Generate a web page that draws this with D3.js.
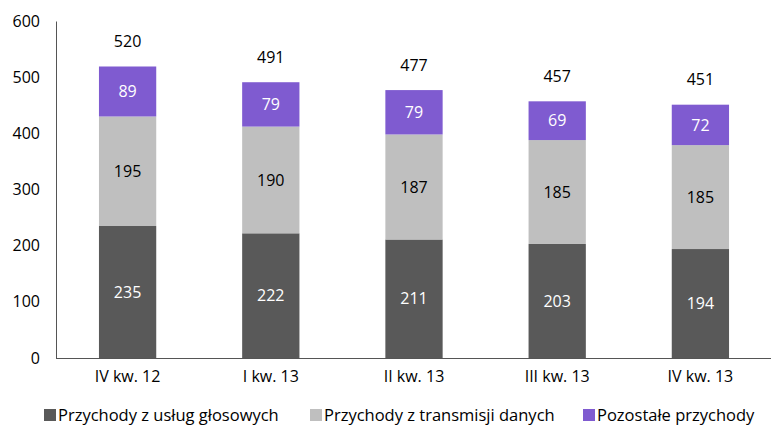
<!DOCTYPE html>
<html><head><meta charset="utf-8">
<script src="https://cdn.jsdelivr.net/npm/d3@7"></script>
<style>body{margin:0;background:#fff}svg{display:block}text{font-family:"Open Sans",sans-serif}</style>
</head><body><svg id="c" width="771" height="426"></svg>
<script>
const categories = ["IV kw. 12","I kw. 13","II kw. 13","III kw. 13","IV kw. 13"];
const seriesNames = ["Przychody z usług głosowych","Przychody z transmisji danych","Pozostałe przychody"];
const voice = [235,222,211,203,194];
const data = [195,190,187,185,185];
const other = [89,79,79,69,72];
const totals = [520,491,477,457,451];
const yTicks = [0,100,200,300,400,500,600];
const colors = ["#595959","#bfbfbf","#7f5bd0"];
const labelColors = ["#fff","#000","#fff"];

const svg = d3.select("#c");
const x = d3.scaleBand().domain(categories).range([56,772]).paddingInner(0.6).paddingOuter(0.3);
const y = d3.scaleLinear().domain([0,600]).range([358,21]);

const rows = categories.map((c,i)=>({cat:c, v0:voice[i], v1:data[i], v2:other[i], total:totals[i]}));
const stack = d3.stack().keys(["v0","v1","v2"])(rows);

stack.forEach((layer,k)=>{
  svg.append("g").selectAll("rect").data(layer).join("rect")
    .attr("x",d=>x(d.data.cat)).attr("width",x.bandwidth())
    .attr("y",d=>y(d[1])).attr("height",d=>y(d[0])-y(d[1]))
    .attr("fill",colors[k]);
  svg.append("g").selectAll("text").data(layer).join("text")
    .attr("x",d=>x(d.data.cat)+x.bandwidth()/2)
    .attr("y",d=>(y(d[0])+y(d[1]))/2).attr("dy","0.35em")
    .attr("text-anchor","middle").attr("font-size",16).attr("fill",labelColors[k])
    .text(d=>d[1]-d[0]);
});
svg.append("g").selectAll("text").data(rows).join("text")
  .attr("x",d=>x(d.cat)+x.bandwidth()/2).attr("y",d=>y(d.total)-25).attr("dy","0.35em")
  .attr("text-anchor","middle").attr("font-size",16).attr("fill","#000").text(d=>d.total);

const yAxis = svg.append("g").attr("transform","translate(56,0)")
  .call(d3.axisLeft(y).tickValues(yTicks).tickSize(0).tickPadding(16));
yAxis.select(".domain").attr("stroke","#555");
yAxis.selectAll("text").attr("font-size",16).attr("fill","#000").attr("font-family","'Open Sans',sans-serif");

const xAxis = svg.append("g").attr("transform","translate(0,358)")
  .call(d3.axisBottom(x).tickSize(0).tickPadding(13));
xAxis.select(".domain").attr("stroke","#555").attr("d","M56,0.5H772");
xAxis.selectAll("text").attr("font-size",16).attr("fill","#000").attr("font-family","'Open Sans',sans-serif");

const legendX = [44,310,583];
const lg = svg.append("g");
seriesNames.forEach((n,i)=>{
  lg.append("rect").attr("x",legendX[i]).attr("y",409).attr("width",12).attr("height",12).attr("fill",colors[i]);
  lg.append("text").attr("x",legendX[i]+14).attr("y",415).attr("dy","0.35em").attr("font-size",16.5).attr("fill","#000").text(n);
});
</script></body></html>
